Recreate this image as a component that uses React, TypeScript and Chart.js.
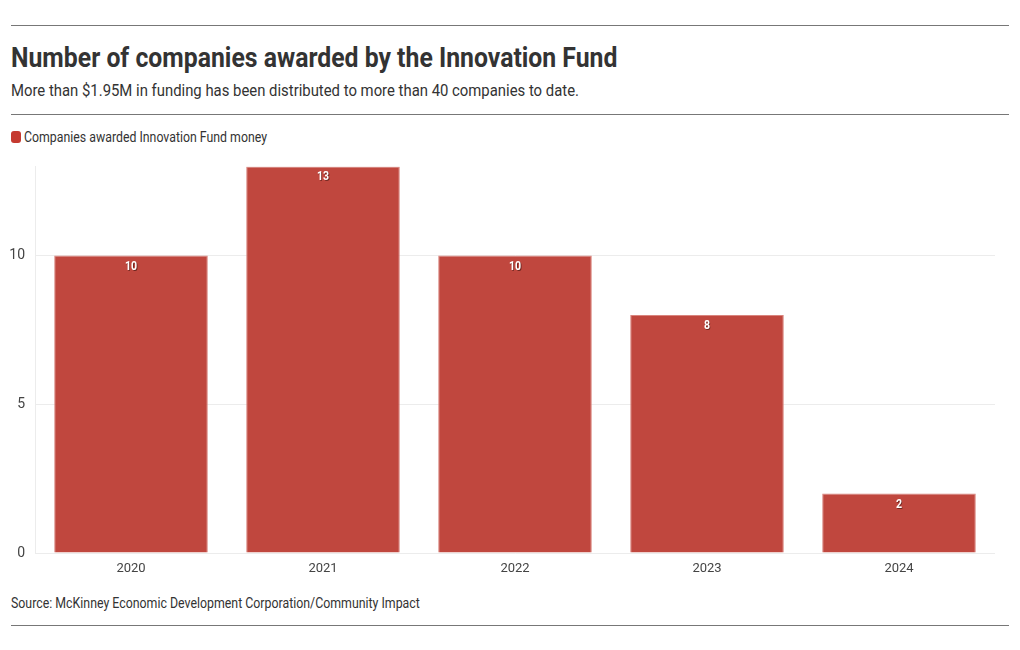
import React, { useEffect, useRef } from "react";
import { Chart, registerables } from "chart.js";

Chart.register(...registerables);

const years = ["2020", "2021", "2022", "2023", "2024"];
const companies = [10, 13, 10, 8, 2];
const yTicks = [0, 5, 10];
const seriesLabel = "Companies awarded Innovation Fund money";
const title = "Number of companies awarded by the Innovation Fund";
const subtitle = "More than $1.95M in funding has been distributed to more than 40 companies to date.";
const source = "Source: McKinney Economic Development Corporation/Community Impact";

const FONT = "Roboto, 'Liberation Sans', sans-serif";
const BAR = "#c0473e";

const valueLabels = {
  id: "valueLabels",
  afterDatasetsDraw(chart: any) {
    const ctx = chart.ctx;
    const meta = chart.getDatasetMeta(0);
    ctx.save();
    ctx.font = `bold 12px ${FONT}`;
    ctx.textAlign = "center";
    ctx.textBaseline = "middle";
    meta.data.forEach((bar: any, i: number) => {
      const x = bar.x;
      const y = bar.y + 11;
      ctx.setTransform(0.88, 0, 0, 1, x * 0.12, 0);
      ctx.fillStyle = "rgba(60,20,15,0.6)";
      ctx.fillText(String(companies[i]), x + 1, y + 1);
      ctx.fillStyle = "#ffffff";
      ctx.fillText(String(companies[i]), x, y);
    });
    ctx.restore();
  },
};

function Cond({ text, style, sx }: { text: string; style: React.CSSProperties; sx: number }) {
  return (
    <div
      style={{
        position: "absolute",
        whiteSpace: "nowrap",
        transform: `scaleX(${sx})`,
        transformOrigin: "left top",
        fontFamily: FONT,
        ...style,
      }}
    >
      {text}
    </div>
  );
}

export default function App() {
  const ref = useRef<HTMLCanvasElement | null>(null);
  useEffect(() => {
    if (!ref.current) return;
    const chart = new Chart(ref.current, {
      type: "bar",
      data: {
        labels: years,
        datasets: [
          {
            label: seriesLabel,
            data: companies,
            backgroundColor: BAR,
            borderColor: "#d9847d",
            borderWidth: 1,
            barPercentage: 0.8,
            categoryPercentage: 1,
          },
        ],
      },
      options: {
        animation: false,
        responsive: false,
        maintainAspectRatio: false,
        layout: { padding: { top: 6, right: 0, left: 0, bottom: 0 } },
        plugins: { legend: { display: false }, tooltip: { enabled: false }, title: { display: false } },
        scales: {
          x: {
            grid: { display: false, drawTicks: false },
            border: { display: true, color: "#ececec" },
            ticks: { color: "#444", font: { family: FONT, size: 13 }, padding: 8 },
            afterFit: (s: any) => {
              s.height = 30;
            },
          },
          y: {
            min: 0,
            max: 13,
            grid: { color: "#ececec", drawTicks: false },
            border: { display: true, color: "#ececec" },
            ticks: {
              stepSize: 5,
              includeBounds: false,
              color: "#444",
              font: { family: FONT, size: 14 },
              padding: 10,
              callback: (v: any) => (yTicks.includes(Number(v)) ? String(v) : ""),
            },
            afterFit: (s: any) => {
              s.width = 35;
            },
          },
        },
      },
      plugins: [valueLabels],
    });
    return () => chart.destroy();
  }, []);

  return (
    <div style={{ position: "absolute", left: 0, top: 0, width: 1020, height: 650, background: "#fff", overflow: "hidden" }}>
      <div style={{ position: "absolute", left: 11, top: 25, width: 998, height: 1, background: "#777" }} />
      <Cond text={title} sx={0.885} style={{ left: 11, top: 41, fontSize: 28, fontWeight: 700, color: "#333" }} />
      <Cond text={subtitle} sx={0.875} style={{ left: 11, top: 80, fontSize: 17, color: "#333" }} />
      <div style={{ position: "absolute", left: 11, top: 114, width: 998, height: 1, background: "#777" }} />
      <div style={{ position: "absolute", left: 11, top: 131, width: 10, height: 12, borderRadius: 3, background: "#c53a30" }} />
      <Cond text={seriesLabel} sx={0.88} style={{ left: 24, top: 129, fontSize: 14, color: "#333" }} />
      <canvas ref={ref} width={995} height={435} style={{ position: "absolute", left: 0, top: 148, width: 995, height: 435 }} />
      <Cond text={source} sx={0.882} style={{ left: 11, top: 595, fontSize: 14, color: "#333" }} />
      <div style={{ position: "absolute", left: 11, top: 625, width: 998, height: 1, background: "#777" }} />
    </div>
  );
}
